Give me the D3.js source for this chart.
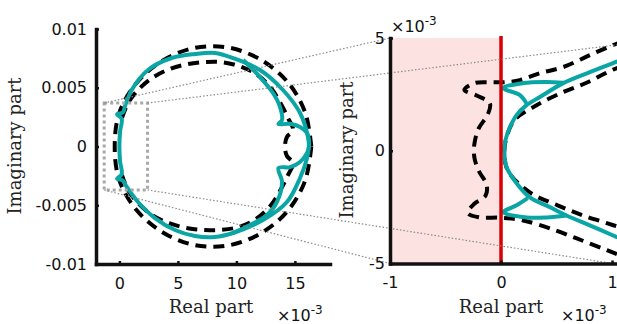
<!DOCTYPE html>
<html>
<head>
<meta charset="utf-8">
<script src="https://cdn.jsdelivr.net/npm/d3@7"></script>
<style>
  body { margin: 0; background: #fff; }
  svg { display: block; }
  .tick text { font-family: "DejaVu Sans", sans-serif; font-size: 16px; fill: #111; }
  .lbl { font-family: "DejaVu Serif", serif; font-size: 18px; fill: #222; }
  .mult { font-family: "DejaVu Sans", sans-serif; font-size: 16px; fill: #111; }
</style>
</head>
<body>
<div id="chart"></div>
<script>
// all curve values in units of 1e-3 (real, imaginary)

// left panel: full view
const tealOuter = [[16.2,0],[16.12,0.81],[15.44,2.85],[13.98,4.81],[12.02,6.51],[9.71,7.53],[8.17,7.96],[6.46,7.87],[4.47,7.53],[2.44,6.51],[1.05,4.81],[0.5,3.5],[0.3,2.9],[-0.2,2.75],[0.2,2.35],[0.06,1.3],[0,0],[0.06,-1.3],[0.2,-2.35],[-0.2,-2.75],[0.3,-2.9],[0.6,-3.4],[1.59,-4.72],[3.04,-6.09],[4.75,-7.11],[6.46,-7.62],[8.17,-7.7],[9.71,-7.36],[12.27,-6.26],[14.32,-4.72],[15.44,-2.68],[16.04,-0.98],[16.2,0]];
const tealInnerTop = [[10.58,7.36],[12.02,5.91],[13.13,4.55],[13.73,3.36],[13.9,2.26],[13.6,1.91],[14.58,1.93],[15.44,1.66],[16.04,1.15],[16.21,0.47],[16.2,0]];
const tealInnerBottom = [[9.71,-7.36],[11.16,-6.68],[12.62,-5.83],[13.47,-4.72],[13.9,-3.02],[13.6,-1.83],[14.58,-1.76],[15.44,-1.32],[16.04,-0.55],[16.2,0]];
const dashOuter = [[16.4,0],[15.88,2.89],[14.41,5.45],[12.16,7.34],[9.42,8.4],[6.49,8.4],[3.75,7.34],[1.5,5.45],[0,2.89],[-0.4,0],[0,-2.89],[1.5,-5.45],[3.75,-7.34],[6.49,-8.4],[9.42,-8.4],[12.16,-7.34],[14.41,-5.45],[15.88,-2.89],[16.4,0]];
const dashInner = [[0.22,2.43],[0.74,3.7],[1.59,4.81],[2.79,5.83],[4.32,6.6],[5.86,7.02],[7.32,7.19],[8.67,7.19],[10.21,6.85],[11.67,6.17],[12.96,4.98],[13.81,3.62],[14.41,2.43],[14.84,1.4],[14.32,0.81],[14.15,0],[14.32,-0.81],[14.84,-1.4],[14.41,-2.43],[13.81,-3.62],[12.96,-4.98],[11.67,-6.17],[10.21,-6.85],[8.67,-7.1],[7.32,-7.1],[5.86,-6.95],[4.32,-6.55],[2.79,-5.83],[1.59,-4.81],[0.74,-3.7],[0.22,-2.43]];

// right panel: zoom near the origin
const rTealMain = [[1.1,4.05],[1.01,3.89],[0.8,3.49],[0.56,3.0],[0.35,2.38],[0.23,2.02],[0.14,1.58],[0.08,1.04],[0.04,0.47],[0.03,0],[0.05,-0.73],[0.14,-1.44],[0.26,-2.07],[0.44,-2.5],[0.59,-2.87],[0.8,-3.31],[1.01,-3.76],[1.1,-3.95]];
const rTealSpurTop = [[0.56,3.02],[0.4,3.05],[0.2,3.0],[0.02,2.78],[0.17,2.47],[0.23,2.1]];
const rTealSpurBottom = [[0.59,-2.87],[0.41,-2.96],[0.23,-2.96],[0.02,-2.73],[0.14,-2.42],[0.24,-2.1]];
const rDashOuter = [[1.1,4.85],[1.01,4.69],[0.8,4.24],[0.56,3.71],[0.35,3.44],[0.17,3.13],[0.04,3.04],[-0.1,3.04],[-0.24,3.0],[-0.33,2.7],[-0.22,2.45],[-0.1,2.1],[-0.12,1.6],[-0.2,1.0],[-0.24,0.3],[-0.24,-0.3],[-0.2,-0.9],[-0.13,-1.5],[-0.14,-2.0],[-0.24,-2.35],[-0.3,-2.75],[-0.2,-2.95],[0,-2.97],[0.2,-3.09],[0.49,-3.53],[0.73,-3.98],[0.96,-4.42],[1.1,-4.7]];
const rDashInner = [[1.1,3.75],[1.0,3.58],[0.78,3.04],[0.56,2.6],[0.32,2.02],[0.12,1.35],[0.05,0.6],[0.03,0],[0.06,-0.87],[0.26,-1.85],[0.51,-2.42],[0.74,-2.87],[0.96,-3.22],[1.1,-3.45]];

// zoom box in the left panel and where its corners link to in the right panel
const boxCorners = [[-1.3,3.7],[2.4,3.7],[-1.3,-3.7],[2.4,-3.7]];
const linkTargets = [[-1,5],[1.05,4.7],[-1,-5],[1,-5]];

// ticks
const leftXTicks = [0, 5, 10, 15];
const leftYTicks = [-10, -5, 0, 5, 10];
const leftYLabels = ["-0.01", "-0.005", "0", "0.005", "0.01"];
const rightXTicks = [-1, 0, 1];
const rightYTicks = [-5, 0, 5];

const W = 617, H = 324;
const svg = d3.select("#chart").append("svg").attr("width", W).attr("height", H);

const xL = d3.scaleLinear().domain([-2, 18]).range([96, 330]);
const yL = d3.scaleLinear().domain([-10, 10]).range([264, 29]);
const xR = d3.scaleLinear().domain([-1, 1.05]).range([390, 617.6]);
const yR = d3.scaleLinear().domain([-5, 5]).range([263.5, 38]);

const TEAL = "#0aa5a5";
const plain = d => String(d);

const lineL = d3.line().x(d => xL(d[0])).y(d => yL(d[1])).curve(d3.curveCatmullRom.alpha(0.5));
const lineR = d3.line().x(d => xR(d[0])).y(d => yR(d[1])).curve(d3.curveCatmullRom.alpha(0.5));

/* left panel curves */
const gL = svg.append("g");
[dashOuter, dashInner].forEach(s => {
  gL.append("path").attr("d", lineL(s)).attr("fill", "none")
    .attr("stroke", "#000").attr("stroke-width", 4).attr("stroke-dasharray", "11,7");
});
[tealOuter, tealInnerTop, tealInnerBottom].forEach(s => {
  gL.append("path").attr("d", lineL(s)).attr("fill", "none")
    .attr("stroke", TEAL).attr("stroke-width", 4).attr("stroke-linejoin", "round");
});

/* right panel */
svg.append("clipPath").attr("id", "clipR").append("rect")
  .attr("x", xR(-1)).attr("y", yR(5)).attr("width", W - xR(-1)).attr("height", yR(-5) - yR(5));

const gR = svg.append("g").attr("clip-path", "url(#clipR)");
gR.append("rect")
  .attr("x", xR(-1)).attr("y", yR(5))
  .attr("width", xR(0) - xR(-1)).attr("height", yR(-5) - yR(5))
  .attr("fill", "#fde2e2");
[rDashOuter, rDashInner].forEach(s => {
  gR.append("path").attr("d", lineR(s)).attr("fill", "none")
    .attr("stroke", "#000").attr("stroke-width", 4).attr("stroke-dasharray", "11,7");
});
[rTealMain, rTealSpurTop, rTealSpurBottom].forEach(s => {
  gR.append("path").attr("d", lineR(s)).attr("fill", "none")
    .attr("stroke", TEAL).attr("stroke-width", 4).attr("stroke-linejoin", "round");
});
svg.append("line")
  .attr("x1", xR(0)).attr("x2", xR(0))
  .attr("y1", yR(5) - 2).attr("y2", yR(-5))
  .attr("stroke", "#d80000").attr("stroke-width", 3.5);

/* zoom box and connectors */
svg.append("rect")
  .attr("x", xL(boxCorners[0][0])).attr("y", yL(boxCorners[0][1]))
  .attr("width", xL(boxCorners[1][0]) - xL(boxCorners[0][0]))
  .attr("height", yL(boxCorners[2][1]) - yL(boxCorners[0][1]))
  .attr("fill", "none").attr("stroke", "#a8a8a8").attr("stroke-width", 3)
  .attr("stroke-dasharray", "3,3");

boxCorners.forEach((c, i) => {
  const t = linkTargets[i];
  svg.append("line")
    .attr("x1", xL(c[0])).attr("y1", yL(c[1]))
    .attr("x2", xR(t[0])).attr("y2", yR(t[1]))
    .attr("stroke", "#8a8a8a").attr("stroke-width", 1.2)
    .attr("stroke-dasharray", "1.5,2");
});

/* axes */
function styleAxis(g) {
  g.select(".domain").attr("stroke", "#111").attr("stroke-width", 3.5).attr("stroke-linecap", "square");
  g.selectAll(".tick line").attr("stroke", "#111").attr("stroke-width", 2.5);
}

svg.append("g").attr("transform", `translate(0,${yL(-10)})`)
  .call(d3.axisBottom(xL).tickValues(leftXTicks).tickFormat(plain)
    .tickSizeInner(-3).tickSizeOuter(0).tickPadding(14))
  .call(styleAxis);
svg.append("g").attr("transform", `translate(${xL(-2)},0)`)
  .call(d3.axisLeft(yL).tickValues(leftYTicks).tickFormat((d, i) => leftYLabels[i])
    .tickSizeInner(-3).tickSizeOuter(0).tickPadding(9))
  .call(styleAxis);

svg.append("g").attr("transform", `translate(0,${yR(-5)})`)
  .call(d3.axisBottom(xR).tickValues(rightXTicks).tickFormat(plain)
    .tickSizeInner(-3).tickSizeOuter(0).tickPadding(13))
  .call(styleAxis);
svg.append("g").attr("transform", `translate(${xR(-1)},0)`)
  .call(d3.axisLeft(yR).tickValues(rightYTicks).tickFormat(plain)
    .tickSizeInner(-3).tickSizeOuter(0).tickPadding(5))
  .call(styleAxis);

/* labels */
svg.append("text").attr("class", "lbl").attr("text-anchor", "middle")
  .attr("x", 211).attr("y", 313).text("Real part");
svg.append("text").attr("class", "lbl").attr("text-anchor", "middle")
  .attr("x", 501).attr("y", 313).text("Real part");
svg.append("text").attr("class", "lbl").attr("text-anchor", "middle")
  .attr("transform", "translate(21,146) rotate(-90)").text("Imaginary part");
svg.append("text").attr("class", "lbl").attr("text-anchor", "middle")
  .attr("transform", "translate(353,150) rotate(-90)").text("Imaginary part");

function multLabel(x, y) {
  const t = svg.append("text").attr("class", "mult").attr("x", x).attr("y", y);
  t.append("tspan").text("×10");
  t.append("tspan").attr("dy", -7).attr("font-size", 12).text("-3");
}
multLabel(277, 321);
multLabel(561, 321);
multLabel(391, 32);
</script>
</body>
</html>
